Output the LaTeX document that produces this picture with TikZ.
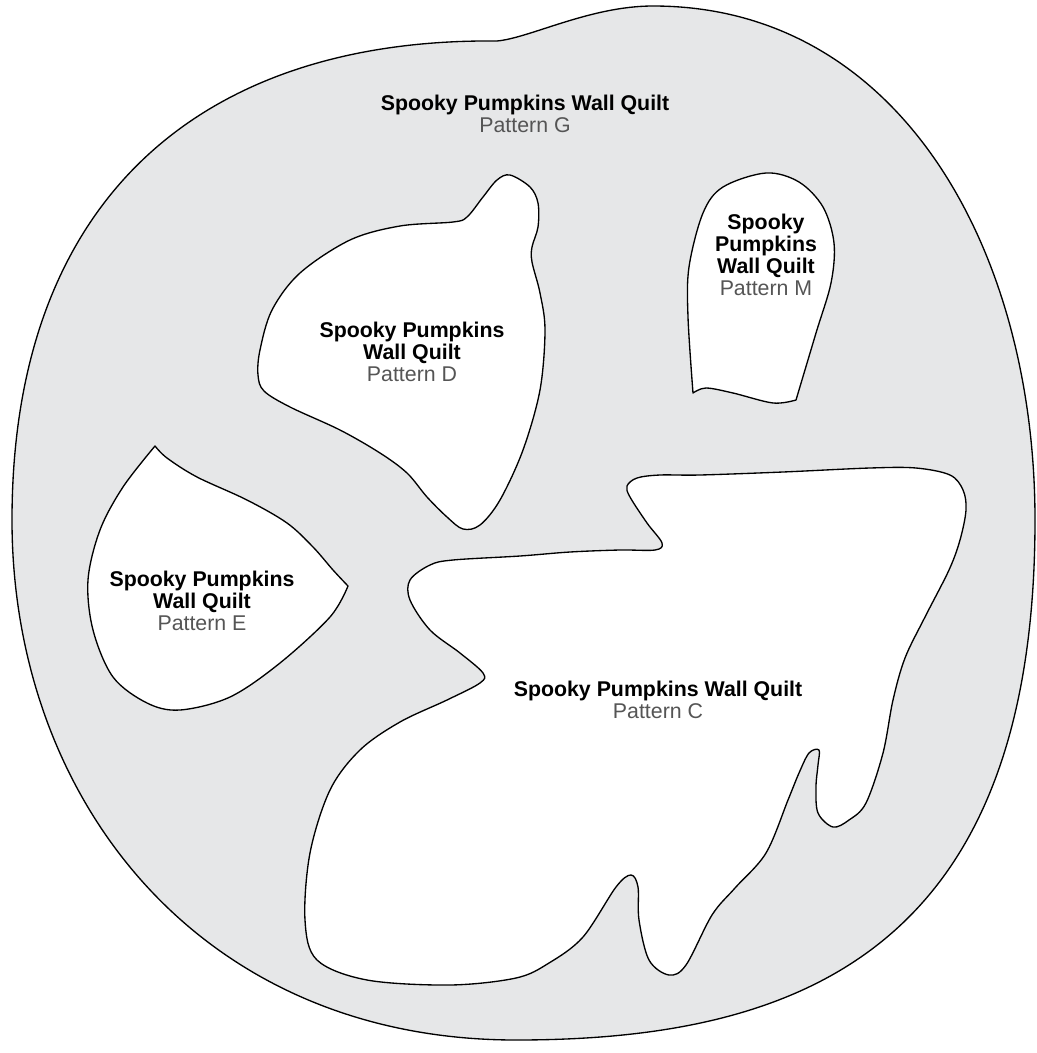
\documentclass[tikz,border=0pt]{standalone}
\usepackage{fontspec}
\setmainfont{Liberation Sans}
\usepackage{xcolor}
\usetikzlibrary{positioning}

\definecolor{quiltgray}{HTML}{E6E7E8}
\definecolor{patgray}{HTML}{555555}

\begin{document}
\begin{tikzpicture}[
    x=0.75pt, y=-0.75pt,
    outer/.style={draw=black, line width=1pt, fill=quiltgray, line join=round},
    piece/.style={draw=black, line width=1pt, fill=white, line join=round},
    tag/.style={align=center, inner sep=0pt, font=\fontsize{16}{16.5}\selectfont},
]
\useasboundingbox (0,0) rectangle (1036,1053);

% background piece G
\draw[outer] (12,520) .. controls (12,200) and (200,38) .. (497,41)
    .. controls (530,38) and (590,6) .. (653,6)
    .. controls (900,6) and (1035,250) .. (1035,520)
    .. controls (1035,950) and (800,1040) .. (516,1040)
    .. controls (200,1040) and (12,800) .. (12,520) -- cycle;

% piece D
\draw[piece] plot[smooth cycle, tension=0.55] coordinates {
    (510,175) (530,187) (538,203) (538,227) (532,247) (532,262) (540,293)
    (545,330) (540,390) (523,450) (500,500) (480,525) (463,529) (447,517)
    (427,497) (407,473) (380,453) (340,430) (290,407) (264,391) (258,375)
    (260,350) (272,310) (300,273) (350,240) (400,226) (453,222) (467,217)
    (483,197) (497,180)};

% piece M
\draw[piece] plot[smooth, tension=0.55] coordinates {
    (693,393) (706,388) (733,393) (773,403) (796,400)}
  -- plot[smooth, tension=0.55] coordinates {
    (796,400) (816,333) (831,283) (834,243) (823,207) (799,182) (766,173)
    (723,187) (703,213) (689,267) (688,317) (693,393)} -- cycle;

% piece E
\draw[piece] plot[smooth, tension=0.55] coordinates {
    (155,446) (167,458) (197,477) (247,500) (287,523) (313,547) (333,570)
    (348,586)}
  -- plot[smooth, tension=0.55] coordinates {
    (348,586) (330,617) (280,663) (230,697) (180,710) (147,703) (113,677)
    (93,630) (88,580) (100,530) (123,487) (155,446)} -- cycle;

% piece C
\draw[piece] plot[smooth cycle, tension=0.55] coordinates {
    (430,565) (453,560) (520,556) (570,552) (620,550) (655,550) (662,543)
    (647,523) (630,497) (627,486) (637,478) (660,475) (700,475) (783,472)
    (870,468) (916,468) (950,475) (963,490) (966,510) (960,540) (949,570)
    (925,617) (905,658) (893,700) (883,753) (866,803) (849,820) (833,827)
    (818,813) (816,787) (818,765) (819,750) (809,753) (799,773) (788,800)
    (766,853) (735,888) (712,915) (686,965) (669,975) (649,960) (639,920)
    (638,887) (631,875) (616,887) (583,937) (549,963) (516,978) (450,985)
    (367,980) (317,960) (305,920) (310,853) (330,790) (360,750) (400,722)
    (447,700) (480,683) (483,673) (460,653) (430,630) (410,600) (410,580)};

% labels
\node[tag] (gName) at (525,114) {{\bfseries Spooky Pumpkins Wall Quilt}\\{\color{patgray}Pattern G}};
\node[tag] (dName) at (412,352) {{\bfseries Spooky Pumpkins}\\{\bfseries Wall Quilt}\\{\color{patgray}Pattern D}};
\node[tag] (mName) at (766,255) {{\bfseries Spooky}\\{\bfseries Pumpkins}\\{\bfseries Wall Quilt}\\{\color{patgray}Pattern M}};
\node[tag] (eName) at (202,601) {{\bfseries Spooky Pumpkins}\\{\bfseries Wall Quilt}\\{\color{patgray}Pattern E}};
\node[tag] (cName) at (658,700) {{\bfseries Spooky Pumpkins Wall Quilt}\\{\color{patgray}Pattern C}};
\end{tikzpicture}
\end{document}
